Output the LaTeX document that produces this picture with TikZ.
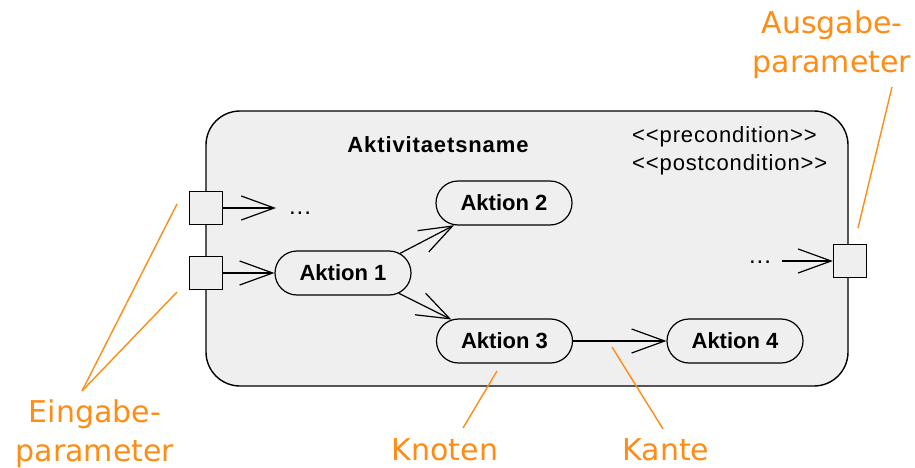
\documentclass[tikz,border=0pt]{standalone}
\usepackage{fontspec}
\setmainfont{Liberation Sans}
\newfontfamily\condfont{Liberation Sans}[Ligatures=TeXOff,LetterSpace=4]
\newfontfamily\labfont{DejaVu Sans}
\usetikzlibrary{shapes.misc,arrows.meta}
\definecolor{boxgray}{HTML}{EFEFEF}
\definecolor{annot}{RGB}{255,140,20}
\begin{document}
\begin{tikzpicture}[x=1pt,y=-1pt,
  frame/.style={draw=black, fill=boxgray, line width=1.4pt, rounded corners=34pt,
    minimum width=642pt, minimum height=275pt, inner sep=0pt},
  action/.style={rounded rectangle, draw=black, fill=boxgray, line width=1.2pt,
    minimum width=136pt, minimum height=44pt, inner sep=0pt,
    font=\fontsize{22}{26}\selectfont\bfseries},
  pin/.style={rectangle, draw=black, fill=boxgray, line width=1.2pt,
    minimum size=33pt, inner sep=0pt},
  flow/.style={draw=black, line width=1.2pt,
    -{Straight Barb[length=33pt, width=24pt, line width=1.2pt]}},
  lead/.style={draw=annot, line width=1.4pt},
  lab/.style={text=annot, inner sep=0pt, font=\labfont\fontsize{30}{39}\selectfont},
  plain/.style={inner sep=0pt, font=\condfont\fontsize{22}{26}\selectfont},
  dots/.style={inner sep=0pt, font=\condfont\fontsize{24}{28}\selectfont}
]
\useasboundingbox (0,0) rectangle (915,468);
\fill[white] (0,0) rectangle (915,468);

% activity frame
\node[frame] (act) at (527,248.5) {};
\node[inner sep=0pt, font=\condfont\fontsize{22}{26}\selectfont\bfseries] (title) at (438,145) {Aktivitaetsname};
\node[plain, anchor=west] (pre) at (632,137) {<<precondition>>};
\node[plain, anchor=west] (post) at (632,165) {<<postcondition>>};

% pins
\node[pin] (p1) at (206,208) {};
\node[pin] (p2) at (206,273) {};
\node[pin] (po) at (850,261) {};

% actions
\node[action] (a1) at (343,273) {Aktion 1};
\node[action] (a2) at (504,203) {Aktion 2};
\node[action] (a3) at (504.5,341) {Aktion 3};
\node[action] (a4) at (735,341) {Aktion 4};

% ellipses
\node[dots] (d1) at (300,213) {...};
\node[dots] (d2) at (760,262) {...};
\coordinate (e1) at (276,208);
\coordinate (e2) at (782,261);

% flows
\draw[flow] (p1.east) -- (e1);
\draw[flow] (p2.east) -- (a1.west);
\draw[flow] (a1.19) -- (a2.204);
\draw[flow] (a1.-20) -- (a3.158);
\draw[flow] (a3.east) -- (a4.west);
\draw[flow] (e2) -- (po.west);

% annotations
\node[lab, align=center] (ein) at (95,434) {Eingabe-\\parameter};
\node[lab, align=center] (aus) at (832,45) {Ausgabe-\\parameter};
\node[lab] (kn) at (445,450) {Knoten};
\node[lab] (ka) at (666,450) {Kante};

\coordinate (einp) at (82,391);
\coordinate (ein1) at (177,204);
\coordinate (ein2) at (177,292);
\coordinate (aus1) at (892,87);
\coordinate (aus2) at (858,228);
\coordinate (kn1) at (463,428);
\coordinate (kn2) at (497,371);
\coordinate (ka1) at (663,429);
\coordinate (ka2) at (612,347);
\draw[lead] (einp) -- (ein1);
\draw[lead] (einp) -- (ein2);
\draw[lead] (aus1) -- (aus2);
\draw[lead] (kn1) -- (kn2);
\draw[lead] (ka1) -- (ka2);
\end{tikzpicture}
\end{document}
